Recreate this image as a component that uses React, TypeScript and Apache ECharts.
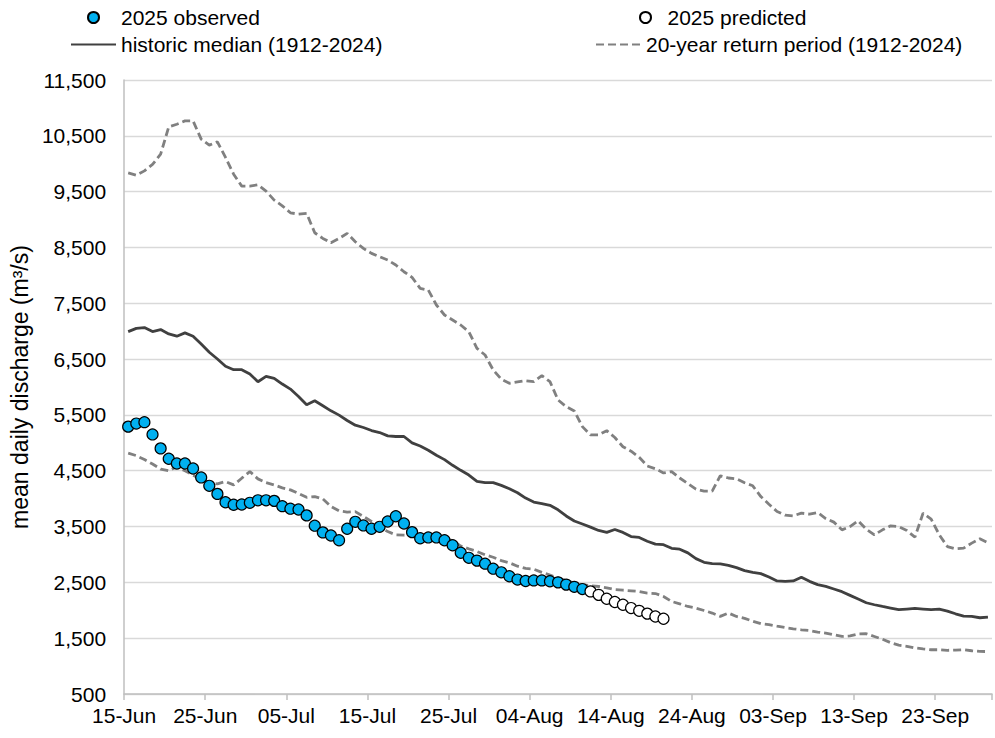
import React, { useEffect, useRef } from "react";
import * as echarts from "echarts";

// x axis: one slot per day, 15-Jun .. 29-Sep, labelled every 10 days
const tickLabels = ["15-Jun", "25-Jun", "05-Jul", "15-Jul", "25-Jul", "04-Aug", "14-Aug", "24-Aug", "03-Sep", "13-Sep", "23-Sep"];
const dayCount = 107;

// 2025 observed (from 15-Jun)
const observed = [
  5290, 5345, 5370, 5150, 4900, 4715, 4630, 4630, 4540, 4380,
  4230, 4085, 3935, 3890, 3895, 3925, 3970, 3970, 3960, 3865,
  3820, 3805, 3700, 3515, 3395, 3340, 3255, 3460, 3585, 3520,
  3460, 3495, 3590, 3685, 3555, 3400, 3290, 3305, 3305, 3255,
  3165, 3030, 2940, 2890, 2835, 2745, 2680, 2610, 2550, 2525,
  2535, 2535, 2520, 2500, 2460, 2420, 2380,
];

// 2025 predicted (starts on day index 57 = 11-Aug)
const predictedStart = 57;
const predicted = [2338, 2276, 2207, 2148, 2099, 2040, 1990, 1940, 1889, 1848];

// historic median (1912-2024)
const historicMedian = [
  6993, 7050, 7065, 6993, 7029, 6951, 6910, 6969, 6910, 6772,
  6622, 6502, 6371, 6310, 6310, 6232, 6094, 6191, 6155, 6053,
  5963, 5831, 5681, 5753, 5663, 5573, 5496, 5400, 5316, 5274,
  5220, 5184, 5124, 5113, 5113, 4998, 4944, 4867, 4777, 4699,
  4597, 4507, 4423, 4310, 4286, 4286, 4238, 4178, 4106, 4010,
  3938, 3910, 3880, 3800, 3690, 3600, 3545, 3490, 3430, 3395,
  3447, 3395, 3320, 3305, 3237, 3185, 3175, 3110, 3095, 3028,
  2925, 2860, 2836, 2830, 2806, 2764, 2710, 2677, 2656, 2596,
  2525, 2518, 2525, 2590, 2518, 2459, 2429, 2381, 2333, 2267,
  2201, 2135, 2099, 2069, 2040, 2010, 2022, 2034, 2022, 2010,
  2022, 1986, 1937, 1896, 1889, 1866, 1878,
];

// 20-year return period, high flow (1912-2024)
const returnHigh = [
  9837, 9795, 9872, 9987, 10171, 10660, 10708, 10767, 10767, 10440,
  10333, 10392, 10112, 9813, 9599, 9599, 9622, 9509, 9348, 9246,
  9121, 9097, 9110, 8763, 8662, 8584, 8660, 8752, 8602, 8483,
  8394, 8333, 8274, 8185, 8065, 7964, 7767, 7737, 7469, 7290,
  7200, 7110, 6991, 6693, 6573, 6305, 6139, 6067, 6090, 6113,
  6096, 6203, 6096, 5768, 5648, 5571, 5290, 5141, 5141, 5218,
  5095, 4930, 4850, 4740, 4585, 4535, 4460, 4485, 4370, 4270,
  4170, 4135, 4135, 4410, 4370, 4355, 4285, 4230, 4037, 3901,
  3769, 3704, 3692, 3740, 3722, 3751, 3644, 3579, 3441, 3500,
  3602, 3453, 3352, 3441, 3513, 3500, 3429, 3310, 3740, 3633,
  3352, 3142, 3101, 3113, 3203, 3280, 3208,
];

// 20-year return period, low flow (1912-2024)
const returnLow = [
  4814, 4770, 4700, 4620, 4530, 4500, 4570, 4500, 4420, 4340,
  4290, 4264, 4306, 4246, 4366, 4485, 4354, 4288, 4246, 4193,
  4157, 4094, 4023, 4037, 3996, 3860, 3780, 3760, 3768, 3680,
  3590, 3500, 3410, 3351, 3345, 3335, 3320, 3305, 3290, 3275,
  3250, 3150, 3100, 3053, 2993, 2950, 2890, 2850, 2790, 2750,
  2735, 2680, 2630, 2580, 2530, 2490, 2460, 2440, 2426, 2400,
  2370, 2360, 2349, 2337, 2308, 2300, 2247, 2158, 2116, 2068,
  2039, 1996, 1950, 1890, 1950, 1889, 1855, 1805, 1760, 1742,
  1715, 1690, 1668, 1650, 1638, 1610, 1592, 1561, 1531, 1540,
  1575, 1580, 1530, 1480, 1420, 1375, 1355, 1325, 1308, 1293,
  1293, 1283, 1285, 1293, 1275, 1263, 1260,
];

const FONT = '"Liberation Sans", Arial, sans-serif';
const N_OBS = "2025 observed";
const N_PRED = "2025 predicted";
const N_MED = "historic median (1912-2024)";
const N_RP = "20-year return period (1912-2024)";

function toXY(arr: number[], start: number) {
  return arr.map((v, i) => [start + i + 0.5, v]);
}

export default function App() {
  const ref = useRef<HTMLDivElement>(null);
  useEffect(() => {
    if (!ref.current) return;
    const chart = echarts.init(ref.current, null, { renderer: "svg" });
    const legendText = { fontSize: 21, color: "#000", fontFamily: FONT };
    const legendBase = { padding: 0, selectedMode: false, textStyle: legendText, itemHeight: 11 };
    chart.setOption({
      animation: false,
      backgroundColor: "#fff",
      textStyle: { fontFamily: FONT },
      grid: { left: 121, right: 1, top: 80, bottom: 44, containLabel: false },
      legend: [
        { ...legendBase, data: [N_OBS], left: 87, top: 7, itemWidth: 45 },
        { ...legendBase, data: [N_MED], left: 70, top: 34, itemWidth: 45, itemStyle: { opacity: 0 } },
        { ...legendBase, data: [N_PRED], left: 639, top: 7, itemWidth: 34 },
        { ...legendBase, data: [N_RP], left: 595, top: 34, itemWidth: 45, itemStyle: { opacity: 0 } },
      ],
      xAxis: {
        type: "value",
        min: 0,
        max: dayCount,
        interval: 10,
        splitLine: { show: false },
        axisLine: { show: true, lineStyle: { color: "#bfbfbf", width: 1.5 } },
        axisTick: { show: true, length: 6, lineStyle: { color: "#bfbfbf", width: 1.5 } },
        axisLabel: {
          fontSize: 21,
          color: "#000",
          fontFamily: FONT,
          margin: 11,
          formatter: (v: number) => {
            const k = Math.round(v / 10);
            return v % 10 === 0 && k < tickLabels.length ? tickLabels[k] : "";
          },
        },
      },
      yAxis: {
        type: "value",
        min: 500,
        max: 11500,
        interval: 1000,
        name: "mean daily discharge (m³/s)",
        nameLocation: "middle",
        nameGap: 86,
        nameTextStyle: { fontSize: 23, color: "#000", fontFamily: FONT },
        axisLine: { show: true, lineStyle: { color: "#bfbfbf", width: 1.5 } },
        axisTick: { show: false },
        splitLine: { show: true, lineStyle: { color: "#d9d9d9", width: 1.3 } },
        axisLabel: {
          fontSize: 21,
          color: "#000",
          fontFamily: FONT,
          margin: 18,
          formatter: (v: number) => v.toLocaleString("en-US"),
        },
      },
      series: [
        {
          name: N_RP,
          type: "line",
          data: toXY(returnHigh, 0),
          symbol: "none",
          lineStyle: { color: "#808080", width: 2.8, type: [8, 4] },
          itemStyle: { color: "#808080" },
          z: 2,
        },
        {
          name: N_RP,
          type: "line",
          data: toXY(returnLow, 0),
          symbol: "none",
          lineStyle: { color: "#808080", width: 2.8, type: [8, 4] },
          itemStyle: { color: "#808080" },
          z: 2,
        },
        {
          name: N_MED,
          type: "line",
          data: toXY(historicMedian, 0),
          symbol: "none",
          lineStyle: { color: "#404040", width: 2.8 },
          itemStyle: { color: "#404040" },
          z: 3,
        },
        {
          name: N_OBS,
          type: "scatter",
          data: toXY(observed, 0),
          symbol: "circle",
          symbolSize: 11,
          itemStyle: { color: "#00b0f0", borderColor: "#000", borderWidth: 1.2, opacity: 1 },
          z: 4,
        },
        {
          name: N_PRED,
          type: "scatter",
          data: toXY(predicted, predictedStart),
          symbol: "circle",
          symbolSize: 11,
          itemStyle: { color: "#fff", borderColor: "#000", borderWidth: 1.2, opacity: 1 },
          z: 4,
        },
      ],
    });
    return () => chart.dispose();
  }, []);
  return (
    <div
      ref={ref}
      style={{ position: "fixed", left: 0, top: 0, width: 995, height: 738, background: "#fff" }}
    />
  );
}
